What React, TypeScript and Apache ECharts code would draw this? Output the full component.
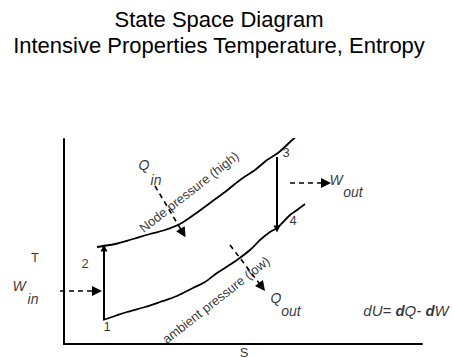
import React, { useEffect, useRef } from 'react';
import * as echarts from 'echarts';

// Title lines
const titleLines = ['State Space Diagram', 'Intensive Properties Temperature, Entropy'];

// High-pressure isobar (entropy S, temperature T)
const highS = [33, 51, 69, 86, 101, 116, 131, 146, 161, 176, 191, 203, 214, 226, 236];
const highT = [97, 100, 105, 110, 114, 120, 130, 141, 152, 164, 174, 184, 191, 202, 211];

// Low (ambient) pressure isobar
const lowS = [39, 51, 63, 81, 96, 113, 129, 141, 153, 164, 173, 186, 196, 206, 213, 226, 233, 241];
const lowT = [24, 28, 32, 37, 42, 48, 56, 62, 71, 78, 84, 94, 104, 112, 116, 129, 134, 140];

// States 1..4
const stateNames = ['1', '2', '3', '4'];
const stateS = [40, 40, 213, 213];
const stateT = [25, 96, 187, 115];

// Heat / work transfer arrows (from -> to, in S,T)
const transferNames = ['W in', 'W out', 'Q in', 'Q out'];
const transferFrom = [[-4, 53], [226, 161], [91, 158], [166, 99]];
const transferTo = [[33, 53], [262, 161], [119, 111], [198, 57]];

// Text annotations
const labelTexts = ['1', '2', '3', '4', 'Q', 'in', 'W', 'in', 'W', 'out', 'Q', 'out', 'T', 'S',
  'Node pressure (high)', 'ambient pressure (low)', 'dU= dQ- dW'];
const labelKinds = ['num', 'num', 'num', 'num', 'sym', 'sym', 'sym', 'sym', 'sym', 'sym', 'sym', 'sym',
  'axis', 'axis', 'curve', 'curve', 'eq'];
const labelAnchors = [[43, 18], [21, 81], [222, 192], [229, 124], [80, 179], [92, 164], [-45, 58], [-31, 45],
  [272, 164], [289, 152], [212, 46], [227, 33], [-29, 87], [180, -8], [125, 152], [152, 44], [342, 34]];

const FONT = '"Liberation Sans", Arial, sans-serif';

function kindLabel(kind: string): any {
  switch (kind) {
    case 'num':
      return { fontSize: 13 };
    case 'sym':
      return { fontSize: 14, fontStyle: 'italic' };
    case 'axis':
      return { fontSize: 13 };
    case 'curve':
      return { fontSize: 13, rotate: 38 };
    default:
      return { fontSize: 15 };
  }
}

export default function App() {
  const ref = useRef<HTMLDivElement>(null);
  useEffect(() => {
    if (!ref.current) return;
    const chart = echarts.init(ref.current, undefined, { renderer: 'svg' });
    const pairs = (a: number[], b: number[]) => a.map((v, i) => [v, b[i]]);
    const option: any = {
      animation: false,
      backgroundColor: '#fff',
      textStyle: { fontFamily: FONT },
      graphic: titleLines.map((t, i) => ({
        type: 'text',
        x: 219,
        y: 19 + i * 26,
        style: {
          text: t,
          fontSize: 22,
          fontFamily: FONT,
          fill: '#000',
          align: 'center',
          verticalAlign: 'middle',
        },
      })),
      grid: { left: 64, right: 31, top: 139, bottom: 14 },
      xAxis: {
        type: 'value', min: 0, max: 358,
        axisLine: { show: true, onZero: false, lineStyle: { color: '#000', width: 2 } },
        axisTick: { show: false }, axisLabel: { show: false }, splitLine: { show: false },
      },
      yAxis: {
        type: 'value', min: 0, max: 205,
        axisLine: { show: true, onZero: false, lineStyle: { color: '#000', width: 2 } },
        axisTick: { show: false }, axisLabel: { show: false }, splitLine: { show: false },
      },
      series: [
        {
          name: 'high pressure', type: 'line', data: pairs(highS, highT), smooth: 0.3,
          symbol: 'none', lineStyle: { color: '#000', width: 1.8 },
        },
        {
          name: 'low pressure', type: 'line', data: pairs(lowS, lowT), smooth: 0.3,
          symbol: 'none', lineStyle: { color: '#000', width: 1.8 },
        },
        {
          name: 'processes', type: 'lines', coordinateSystem: 'cartesian2d', clip: false,
          symbol: ['none', 'triangle'], symbolSize: 7,
          lineStyle: { color: '#000', width: 2, type: 'solid', opacity: 1 },
          data: [
            { name: stateNames[0] + '-' + stateNames[1], coords: [[stateS[0], stateT[0]], [stateS[1], stateT[1]]] },
            { name: stateNames[2] + '-' + stateNames[3], coords: [[stateS[2], stateT[2]], [stateS[3], stateT[3]]] },
          ],
        },
        {
          name: 'transfers', type: 'lines', coordinateSystem: 'cartesian2d', clip: false,
          symbol: ['none', 'triangle'], symbolSize: 10,
          lineStyle: { color: '#000', width: 1.6, type: [5, 4], opacity: 1 },
          data: transferNames.map((n, i) => ({ name: n, coords: [transferFrom[i], transferTo[i]] })),
        },
        {
          name: 'annotations', type: 'scatter', clip: false, symbolSize: 0, silent: true,
          label: {
            show: true, position: 'inside', color: '#000', fontFamily: FONT,
            formatter: (p: any) =>
              p.name.startsWith('dU') ? '{a|dU= }{b|d}{a|Q- }{b|d}{a|W}' : p.name,
            rich: {
              a: { fontStyle: 'italic', fontSize: 15, fontFamily: FONT, color: '#000' },
              b: { fontStyle: 'italic', fontWeight: 'bold', fontSize: 15, fontFamily: FONT, color: '#000' },
            },
          },
          data: labelTexts.map((t, i) => ({
            name: t,
            value: labelAnchors[i],
            label: kindLabel(labelKinds[i]),
          })),
        },
      ],
    };
    chart.setOption(option);
    return () => chart.dispose();
  }, []);
  return (
    <div
      ref={ref}
      style={{ position: 'fixed', left: 0, top: 0, width: 453, height: 358, background: '#fff' }}
    />
  );
}
